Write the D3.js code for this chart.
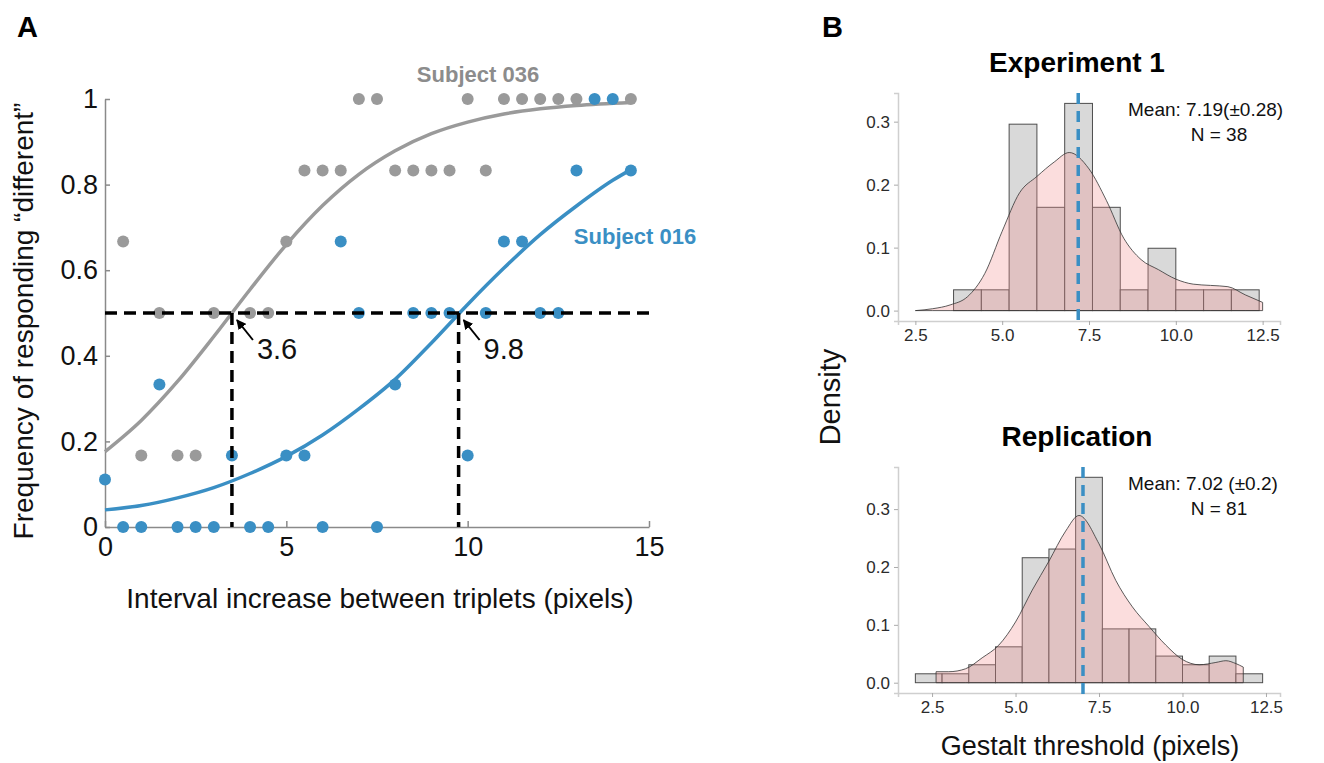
<!DOCTYPE html>
<html>
<head>
<meta charset="utf-8">
<script src="https://cdn.jsdelivr.net/npm/d3@7"></script>
<style>
  body { margin: 0; background: #fff; }
  text { font-family: "Liberation Sans", Arial, sans-serif; }
</style>
</head>
<body>
<svg id="fig" width="1324" height="763"></svg>
<script>
// ---------- Panel A data ----------
// Subject 036 (grey) observed frequencies
const grayX = [0.5, 1, 1.5, 2, 2.5, 3, 4, 4.5, 5, 5.5, 6, 6.5, 7, 7.5, 8, 8.5, 9, 9.5, 10, 10.5, 11, 11.5, 12, 12.5, 13, 14.5];
const grayY = [0.667, 0.167, 0.5, 0.167, 0.167, 0.5, 0.5, 0.5, 0.667, 0.833, 0.833, 0.833, 1, 1, 0.833, 0.833, 0.833, 0.833, 1, 0.833, 1, 1, 1, 1, 1, 1];
// Subject 016 (blue) observed frequencies
const blueX = [0, 0.5, 1, 1.5, 2, 2.5, 3, 3.5, 4, 4.5, 5, 5.5, 6, 6.5, 7, 7.5, 8, 8.5, 9, 9.5, 10, 10.5, 11, 11.5, 12, 12.5, 13, 13.5, 14, 14.5];
const blueY = [0.111, 0, 0, 0.333, 0, 0, 0, 0.167, 0, 0, 0.167, 0.167, 0, 0.667, 0.5, 0, 0.333, 0.5, 0.5, 0.5, 0.167, 0.5, 0.667, 0.667, 0.5, 0.5, 0.833, 1, 1, 0.833];
// fitted psychometric curves
const grayFitX = [0, 1, 2, 3, 4, 5, 6, 7, 8, 9, 10, 11, 12, 13, 14.5];
const grayFitY = [0.176, 0.249, 0.34, 0.445, 0.555, 0.66, 0.751, 0.824, 0.879, 0.919, 0.946, 0.965, 0.977, 0.985, 0.992];
const blueFitX = [0, 1, 2, 3, 4, 5, 6, 7, 8, 9, 10, 11, 12, 13, 14, 14.5];
const blueFitY = [0.04, 0.05, 0.068, 0.092, 0.125, 0.165, 0.215, 0.276, 0.345, 0.43, 0.52, 0.605, 0.683, 0.75, 0.81, 0.835];
// thresholds (where the curve crosses 0.5) and their labels
const threshX = [3.5, 9.75];
const threshLabel = ["3.6", "9.8"];
const yTicksA = [0, 0.2, 0.4, 0.6, 0.8, 1];
const xTicksA = [0, 5, 10, 15];

// ---------- Panel B data ----------
const exp1Edges = [3.6, 4.4, 5.2, 6.0, 6.8, 7.6, 8.4, 9.2, 10.0, 10.8, 11.6, 12.4];
const exp1Hist = [0.033, 0.033, 0.296, 0.164, 0.329, 0.164, 0.033, 0.099, 0.033, 0.033, 0.033];
const exp1KdeX = [2.5, 3, 3.5, 4, 4.5, 5, 5.5, 6, 6.5, 6.93, 7.5, 8, 8.5, 9, 9.5, 10, 10.5, 11, 11.5, 12, 12.5];
const exp1KdeY = [0, 0.003, 0.009, 0.022, 0.059, 0.126, 0.187, 0.213, 0.236, 0.251, 0.225, 0.175, 0.115, 0.081, 0.065, 0.05, 0.042, 0.04, 0.038, 0.025, 0.013];

const repEdges = [2.0, 2.8, 3.6, 4.4, 5.2, 6.0, 6.8, 7.6, 8.4, 9.2, 10.0, 10.8, 11.6, 12.4];
const repHist = [0.0154, 0.0154, 0.031, 0.062, 0.216, 0.231, 0.355, 0.093, 0.093, 0.046, 0.031, 0.046, 0.0154];
const repKdeX = [2.62, 3, 3.5, 4, 4.5, 5, 5.5, 6, 6.5, 6.9, 7.5, 8, 8.5, 9, 9.5, 10, 10.5, 11, 11.3, 11.6, 11.82];
const repKdeY = [0.019, 0.019, 0.024, 0.043, 0.065, 0.105, 0.16, 0.21, 0.262, 0.289, 0.24, 0.177, 0.131, 0.097, 0.065, 0.04, 0.031, 0.035, 0.038, 0.033, 0.027];

const xTicksB = [2.5, 5.0, 7.5, 10.0, 12.5];
const yTicksB = [0, 0.1, 0.2, 0.3];

const GRAY = "#9a9a9a";
const BLUE = "#3a8fc4";

const svg = d3.select("#fig");

// ================= Panel A =================
svg.append("text").attr("x", 17).attr("y", 37)
    .style("font-size", "29px").style("font-weight", "bold").text("A");

const x = d3.scaleLinear().domain([0, 15]).range([105, 649]);
const y = d3.scaleLinear().domain([0, 1]).range([527, 99]);

const gA = svg.append("g");

const yAxisA = gA.append("g")
    .attr("transform", `translate(${x(0)},0)`)
    .call(d3.axisLeft(y).tickValues(yTicksA).tickSizeInner(-5).tickSizeOuter(0).tickPadding(7).tickFormat(d => String(d)));
const xAxisA = gA.append("g")
    .attr("transform", `translate(0,${y(0)})`)
    .call(d3.axisBottom(x).tickValues(xTicksA).tickSizeInner(-6).tickSizeOuter(0).tickPadding(10).tickFormat(d => String(d)));
[yAxisA, xAxisA].forEach(a => {
    a.select(".domain").attr("stroke", "#8a8a8a").attr("stroke-width", 1.5);
    a.selectAll(".tick line").attr("stroke", "#8a8a8a").attr("stroke-width", 1.5);
    a.selectAll(".tick text").attr("fill", "#111").style("font-size", "27px")
        .style("font-family", "'Liberation Sans', Arial, sans-serif");
});

// axis titles
svg.append("text")
    .attr("transform", `translate(33,${(y(0) + y(1)) / 2 + 8}) rotate(-90)`)
    .attr("text-anchor", "middle").style("font-size", "28px").attr("fill", "#111")
    .text("Frequency of responding \u201cdifferent\u201d");
svg.append("text")
    .attr("x", 380).attr("y", 608)
    .attr("text-anchor", "middle").style("font-size", "28px").attr("fill", "#111")
    .text("Interval increase between triplets (pixels)");

// fitted curves
const line = d3.line().x(d => x(d[0])).y(d => y(d[1])).curve(d3.curveMonotoneX);
gA.append("path").datum(d3.zip(grayFitX, grayFitY))
    .attr("d", line).attr("fill", "none").attr("stroke", GRAY).attr("stroke-width", 3.5);
gA.append("path").datum(d3.zip(blueFitX, blueFitY))
    .attr("d", line).attr("fill", "none").attr("stroke", BLUE).attr("stroke-width", 3.5);

// points
gA.append("g").selectAll("circle").data(d3.zip(grayX, grayY)).enter().append("circle")
    .attr("cx", d => x(d[0])).attr("cy", d => y(d[1])).attr("r", 6).attr("fill", GRAY);
gA.append("g").selectAll("circle").data(d3.zip(blueX, blueY)).enter().append("circle")
    .attr("cx", d => x(d[0])).attr("cy", d => y(d[1])).attr("r", 6).attr("fill", BLUE);

// threshold guides
gA.append("line")
    .attr("x1", x(0)).attr("x2", x(15)).attr("y1", y(0.5)).attr("y2", y(0.5))
    .attr("stroke", "#000").attr("stroke-width", 3.5).attr("stroke-dasharray", "12,7");
gA.selectAll(".vthr").data(threshX).enter().append("line")
    .attr("x1", d => x(d)).attr("x2", d => x(d)).attr("y1", y(0.5)).attr("y2", y(0))
    .attr("stroke", "#000").attr("stroke-width", 3.5).attr("stroke-dasharray", "12,7");

// arrows + labels
svg.append("defs").append("marker")
    .attr("id", "arr").attr("viewBox", "0 0 10 10").attr("refX", 9).attr("refY", 5)
    .attr("markerWidth", 10).attr("markerHeight", 10).attr("markerUnits", "userSpaceOnUse")
    .attr("orient", "auto")
    .append("path").attr("d", "M0,0 L10,5 L0,10 z").attr("fill", "#000");
threshX.forEach((t, i) => {
    gA.append("line")
        .attr("x1", x(t) + 21).attr("y1", y(0.5) + 27)
        .attr("x2", x(t) + 5).attr("y2", y(0.5) + 7)
        .attr("stroke", "#000").attr("stroke-width", 2).attr("marker-end", "url(#arr)");
    gA.append("text").attr("x", x(t) + 25).attr("y", y(0.5) + 46)
        .style("font-size", "29px").attr("fill", "#111").text(threshLabel[i]);
});

// subject labels
gA.append("text").attr("x", 478).attr("y", 82).attr("text-anchor", "middle")
    .style("font-size", "22px").style("font-weight", "bold").attr("fill", "#8c8c8c").text("Subject 036");
gA.append("text").attr("x", 635).attr("y", 244).attr("text-anchor", "middle")
    .style("font-size", "22px").style("font-weight", "bold").attr("fill", BLUE).text("Subject 016");

// ================= Panel B =================
svg.append("text").attr("x", 822).attr("y", 37)
    .style("font-size", "29px").style("font-weight", "bold").text("B");

function histPanel(opts) {
    const xs = d3.scaleLinear().domain(opts.xDomain).range([898, 1280]);
    const ys = d3.scaleLinear().domain(opts.yDomain).range([opts.bottom, opts.top]);
    const g = svg.append("g");

    const ax = g.append("g").attr("transform", `translate(0,${opts.bottom})`)
        .call(d3.axisBottom(xs).tickValues(xTicksB).tickSizeOuter(0).tickSize(4).tickPadding(4).tickFormat(d3.format(".1f")));
    const ay = g.append("g").attr("transform", "translate(898,0)")
        .call(d3.axisLeft(ys).tickValues(yTicksB).tickSizeOuter(0).tickSize(4).tickPadding(4).tickFormat(d3.format(".1f")));
    [ax, ay].forEach(a => {
        a.select(".domain").attr("stroke", "#cfcfcf").attr("stroke-width", 1.5);
        a.selectAll(".tick line").attr("stroke", "#aaa");
        a.selectAll(".tick text").attr("fill", "#2b2b2b").style("font-size", "17px")
            .style("font-family", "'Liberation Sans', Arial, sans-serif");
    });

    // histogram bars
    g.append("g").selectAll("rect").data(opts.hist).enter().append("rect")
        .attr("x", (d, i) => xs(opts.edges[i]))
        .attr("width", (d, i) => xs(opts.edges[i + 1]) - xs(opts.edges[i]))
        .attr("y", d => ys(d))
        .attr("height", d => ys(0) - ys(d))
        .attr("fill", "#d9d9d9").attr("stroke", "#4d4d4d").attr("stroke-width", 1);

    // density
    const area = d3.area().x(d => xs(d[0])).y0(ys(0)).y1(d => ys(d[1])).curve(d3.curveMonotoneX);
    g.append("path").datum(d3.zip(opts.kdeX, opts.kdeY))
        .attr("d", area).attr("fill", "#f28e8e").attr("fill-opacity", 0.3)
        .attr("stroke", "#333").attr("stroke-width", 0.8);

    // mean line
    g.append("line").attr("x1", xs(opts.mean)).attr("x2", xs(opts.mean))
        .attr("y1", opts.top).attr("y2", opts.bottom + 2)
        .attr("stroke", BLUE).attr("stroke-width", 3.5).attr("stroke-dasharray", "11,7");

    g.append("text").attr("x", 1077).attr("y", opts.top - 21).attr("text-anchor", "middle")
        .style("font-size", "28px").style("font-weight", "bold").attr("fill", "#000").text(opts.title);
    g.append("text").attr("x", 1128).attr("y", opts.top + 23)
        .style("font-size", "19px").attr("fill", "#111").text(opts.meanText);
    g.append("text").attr("x", 1219).attr("y", opts.top + 48).attr("text-anchor", "middle")
        .style("font-size", "19px").attr("fill", "#111").text(opts.nText);
}

histPanel({
    top: 93, bottom: 321, xDomain: [2.0, 13.0], yDomain: [-0.0165, 0.3455],
    edges: exp1Edges, hist: exp1Hist, kdeX: exp1KdeX, kdeY: exp1KdeY,
    mean: 7.19, title: "Experiment 1", meanText: "Mean: 7.19(\u00b10.28)", nText: "N = 38"
});
histPanel({
    top: 467, bottom: 693, xDomain: [1.48, 12.92], yDomain: [-0.0178, 0.3728],
    edges: repEdges, hist: repHist, kdeX: repKdeX, kdeY: repKdeY,
    mean: 7.02, title: "Replication", meanText: "Mean: 7.02 (\u00b10.2)", nText: "N = 81"
});

svg.append("text")
    .attr("transform", "translate(840,397) rotate(-90)")
    .attr("text-anchor", "middle").style("font-size", "29px").attr("fill", "#111").text("Density");
svg.append("text").attr("x", 1090).attr("y", 755).attr("text-anchor", "middle")
    .style("font-size", "27px").attr("fill", "#111").text("Gestalt threshold (pixels)");
</script>
</body>
</html>
